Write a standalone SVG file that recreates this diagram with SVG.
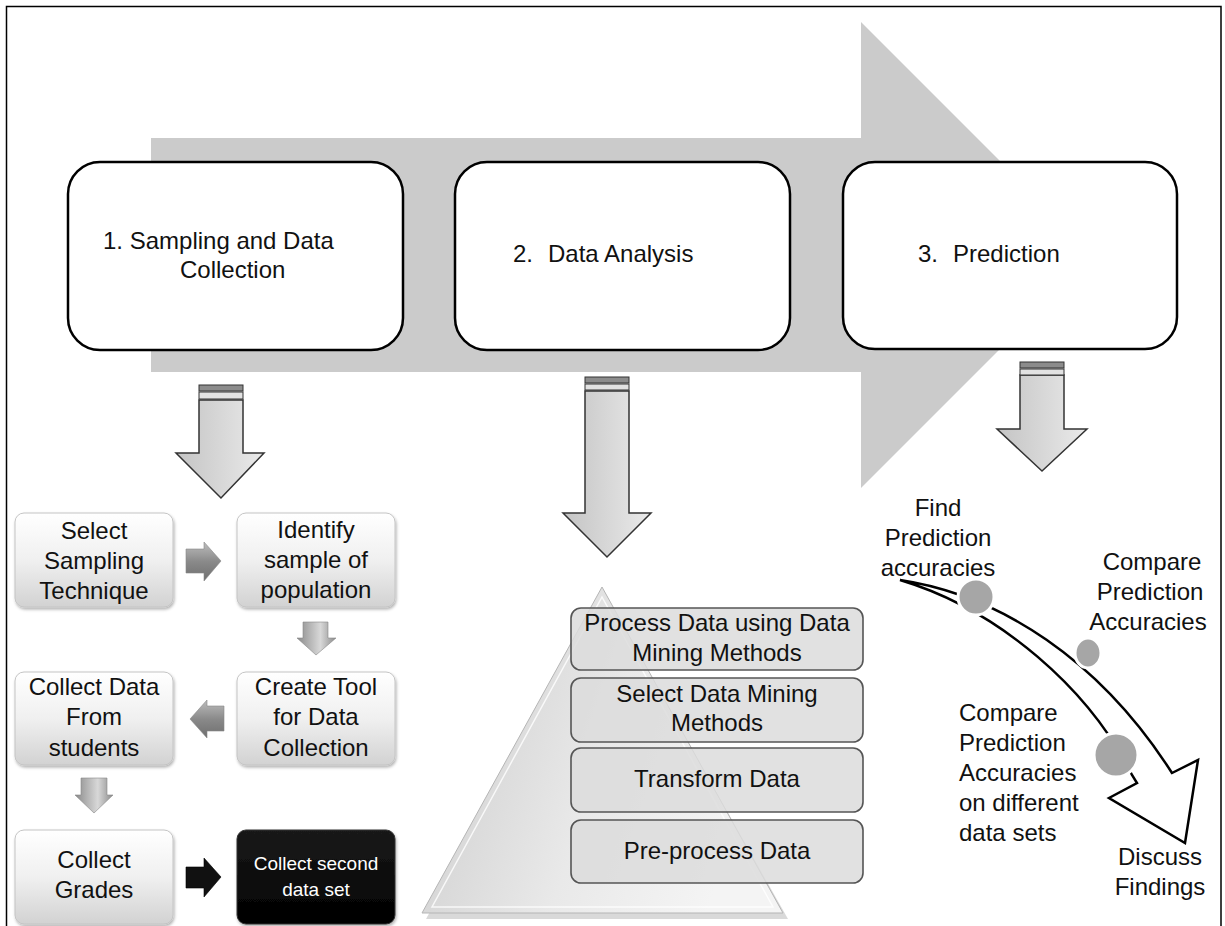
<svg xmlns="http://www.w3.org/2000/svg" width="1225" height="926" viewBox="0 0 1225 926">
<defs>
<style>
text{font-family:"Liberation Sans",Arial,sans-serif;fill:#111;}
.t24{font-size:24px;}
.mid{text-anchor:middle;}
.stage{fill:#fff;stroke:#000;stroke-width:2.5;}
.bigarrow{fill:url(#gArrow);stroke:#333;stroke-width:1.5;}
.stripeD{fill:#8c8c8c;stroke:#333;stroke-width:1;}
.stripeL{fill:#e2e2e2;stroke:#333;stroke-width:1;}
.step{fill:url(#gBox);stroke:#c4c4c4;stroke-width:1;filter:url(#sh);}
.small{fill:url(#gSmall);stroke:#888;stroke-width:0.6;}
.layer{fill:#dcdcdc;fill-opacity:0.85;stroke:#555;stroke-width:1.6;}
.dot{fill:#a6a6a6;stroke:#fff;stroke-width:3;}
</style>
<linearGradient id="gArrow" x1="0" y1="0" x2="1" y2="0">
<stop offset="0" stop-color="#c4c4c4"/><stop offset="1" stop-color="#eaeaea"/>
</linearGradient>
<linearGradient id="gBox" x1="0" y1="0" x2="0" y2="1">
<stop offset="0" stop-color="#ffffff"/><stop offset="0.5" stop-color="#f0f0f0"/><stop offset="1" stop-color="#d2d2d2"/>
</linearGradient>
<linearGradient id="gBlack" x1="0" y1="0" x2="0" y2="1">
<stop offset="0" stop-color="#1a1a1a"/><stop offset="1" stop-color="#000"/>
</linearGradient>
<linearGradient id="gSmall" x1="0" y1="0" x2="0" y2="1">
<stop offset="0" stop-color="#bdbdbd"/><stop offset="0.5" stop-color="#8a8a8a"/><stop offset="1" stop-color="#6e6e6e"/>
</linearGradient>
<linearGradient id="gSmallV" x1="0" y1="0" x2="1" y2="0">
<stop offset="0" stop-color="#8a8a8a"/><stop offset="0.6" stop-color="#d8d8d8"/><stop offset="1" stop-color="#8a8a8a"/>
</linearGradient>
<linearGradient id="gPyr" x1="0" y1="0" x2="1" y2="0.3">
<stop offset="0" stop-color="#c9c9c9"/><stop offset="0.6" stop-color="#e9e9e9"/><stop offset="1" stop-color="#f4f4f4"/>
</linearGradient>
<linearGradient id="gLayer" x1="0" y1="0" x2="0" y2="1">
<stop offset="0" stop-color="#e6e6e6"/><stop offset="1" stop-color="#d4d4d4"/>
</linearGradient>
<filter id="sh" x="-10%" y="-10%" width="130%" height="130%">
<feDropShadow dx="1" dy="2" stdDeviation="1.5" flood-color="#000" flood-opacity="0.3"/>
</filter>
</defs>

<rect width="1225" height="926" fill="#fff"/>
<path d="M6.5 930 V6.5 H1221 V930" fill="none" stroke="#000" stroke-width="1.5"/>

<!-- big background arrow -->
<path id="process-arrow" d="M151 138 H861 V22 L1094 255 L861 488 V372 H151 Z" fill="#cbcbcb"/>

<g id="stage1"><rect class="stage" x="68" y="162" width="335" height="188" rx="32"/>
<text class="t24" x="103" y="249">1. Sampling and Data</text>
<text class="t24" x="180" y="278">Collection</text></g>
<g id="stage2"><rect class="stage" x="455" y="162" width="335" height="188" rx="32"/>
<text class="t24" y="262"><tspan x="513">2.</tspan><tspan x="548">Data Analysis</tspan></text></g>
<g id="stage3"><rect class="stage" x="843" y="162" width="334" height="187" rx="32"/>
<text class="t24" y="262"><tspan x="918">3.</tspan><tspan x="953">Prediction</tspan></text></g>

<g id="connectors">
<!-- big down arrows -->
<g id="down1">
<path class="bigarrow" d="M199 400 H243 V453 H264 L221 498 L176 453 H199 Z"/>
<rect class="stripeD" x="199" y="385" width="44" height="6"/>
<rect class="stripeL" x="199" y="392" width="44" height="7"/>
</g>
<g id="down2">
<path class="bigarrow" d="M585 391 H629 V513 H651 L607 557 L563 513 H585 Z"/>
<rect class="stripeD" x="585" y="377" width="44" height="6"/>
<rect class="stripeL" x="585" y="384" width="44" height="6"/>
</g>
<g id="down3">
<path class="bigarrow" d="M1020 375 H1064 V429 H1087 L1042 471 L997 429 H1020 Z"/>
<rect class="stripeD" x="1020" y="362" width="44" height="6"/>
<rect class="stripeL" x="1020" y="369" width="44" height="6"/>
</g>
<!-- small flow arrows -->
<path class="small" d="M186 549 H204 V542 L221 561 L204 581 V573 H186 Z"/>
<path d="M303 622 H328 V638 H336 L316 655 L297 638 H303 Z" fill="url(#gSmallV)" stroke="#888" stroke-width="0.6"/>
<path class="small" d="M224 706 H207 V700 L190 719 L207 738 V731 H224 Z"/>
<path d="M81 778 H107 V795 H113 L94 813 L75 795 H81 Z" fill="url(#gSmallV)" stroke="#888" stroke-width="0.6"/>
<path d="M186 867 H204 V858 L221 877 L204 897 V888 H186 Z" fill="#111" stroke="#000" stroke-width="0.6"/>
<!-- curved prediction arrow -->
<path d="M900 580 C1000 595 1100 660 1172 773 L1198 760 L1185 843 L1109 798 L1137 783 L1132 775 C1090 690 1000 610 900 580 Z" fill="#fff" stroke="#000" stroke-width="2.5" stroke-linejoin="miter"/>
</g>

<!-- left flow -->
<g id="n-select"><rect class="step" x="15" y="513" width="158" height="94" rx="9"/>
<text class="t24 mid" x="94" y="539">Select</text><text class="t24 mid" x="94" y="569">Sampling</text><text class="t24 mid" x="94" y="599">Technique</text></g>
<g id="n-identify"><rect class="step" x="237" y="513" width="158" height="94" rx="9"/>
<text class="t24 mid" x="316" y="538">Identify</text><text class="t24 mid" x="316" y="568">sample of</text><text class="t24 mid" x="316" y="598">population</text></g>
<g id="n-create"><rect class="step" x="237" y="672" width="158" height="93" rx="9"/>
<text class="t24 mid" x="316" y="695">Create Tool</text><text class="t24 mid" x="316" y="725">for Data</text><text class="t24 mid" x="316" y="756">Collection</text></g>
<g id="n-collectdata"><rect class="step" x="15" y="672" width="158" height="93" rx="9"/>
<text class="t24 mid" x="94" y="695">Collect Data</text><text class="t24 mid" x="94" y="725">From</text><text class="t24 mid" x="94" y="756">students</text></g>
<g id="n-grades"><rect class="step" x="15" y="830" width="158" height="94" rx="9"/>
<text class="t24 mid" x="94" y="868">Collect</text><text class="t24 mid" x="94" y="898">Grades</text></g>
<g id="n-second"><rect x="237" y="830" width="158" height="94" rx="9" fill="url(#gBlack)" stroke="#333" stroke-width="1" filter="url(#sh)"/>
<text class="mid" x="316" y="870" style="font-size:19px;fill:#fff">Collect second</text><text class="mid" x="316" y="896" style="font-size:19px;fill:#fff">data set</text></g>

<!-- pyramid -->
<g id="pyramid">
<path d="M602 590 L786 916 L424 916 Z" fill="#000" opacity="0.15" transform="translate(2,3)"/>
<path d="M602 587 L783 913 L422 913 Z" fill="url(#gPyr)" stroke="#b5b5b5" stroke-width="1"/>
<path d="M602 597 L773 907 L432 907 Z" fill="none" stroke="#fff" stroke-width="1.5" opacity="0.8"/>
</g>
<g id="layer1"><rect class="layer" x="571" y="608" width="292" height="62" rx="10"/>
<text class="t24 mid" x="717" y="631">Process Data using Data</text><text class="t24 mid" x="717" y="661">Mining Methods</text></g>
<g id="layer2"><rect class="layer" x="571" y="678" width="292" height="64" rx="10"/>
<text class="t24 mid" x="717" y="702">Select Data Mining</text><text class="t24 mid" x="717" y="731">Methods</text></g>
<g id="layer3"><rect class="layer" x="571" y="748" width="292" height="64" rx="10"/>
<text class="t24 mid" x="717" y="787">Transform Data</text></g>
<g id="layer4"><rect class="layer" x="571" y="820" width="292" height="63" rx="10"/>
<text class="t24 mid" x="717" y="859">Pre-process Data</text></g>

<!-- prediction steps -->
<g id="p-find"><circle class="dot" cx="976" cy="597" r="18"/>
<text class="t24 mid" x="938" y="516">Find</text><text class="t24 mid" x="938" y="546">Prediction</text><text class="t24 mid" x="938" y="576">accuracies</text></g>
<g id="p-compare"><ellipse class="dot" cx="1088" cy="653" rx="13" ry="15"/>
<text class="t24 mid" x="1152" y="570">Compare</text><text class="t24 mid" x="1150" y="600">Prediction</text><text class="t24 mid" x="1148" y="630">Accuracies</text></g>
<g id="p-compare-sets"><circle class="dot" cx="1116" cy="755" r="22"/>
<text class="t24" x="959" y="721">Compare</text><text class="t24" x="959" y="751">Prediction</text><text class="t24" x="959" y="781">Accuracies</text><text class="t24" x="959" y="811">on different</text><text class="t24" x="959" y="841">data sets</text></g>
<g id="p-discuss"><text class="t24 mid" x="1160" y="865">Discuss</text><text class="t24 mid" x="1160" y="895">Findings</text></g>
</svg>
